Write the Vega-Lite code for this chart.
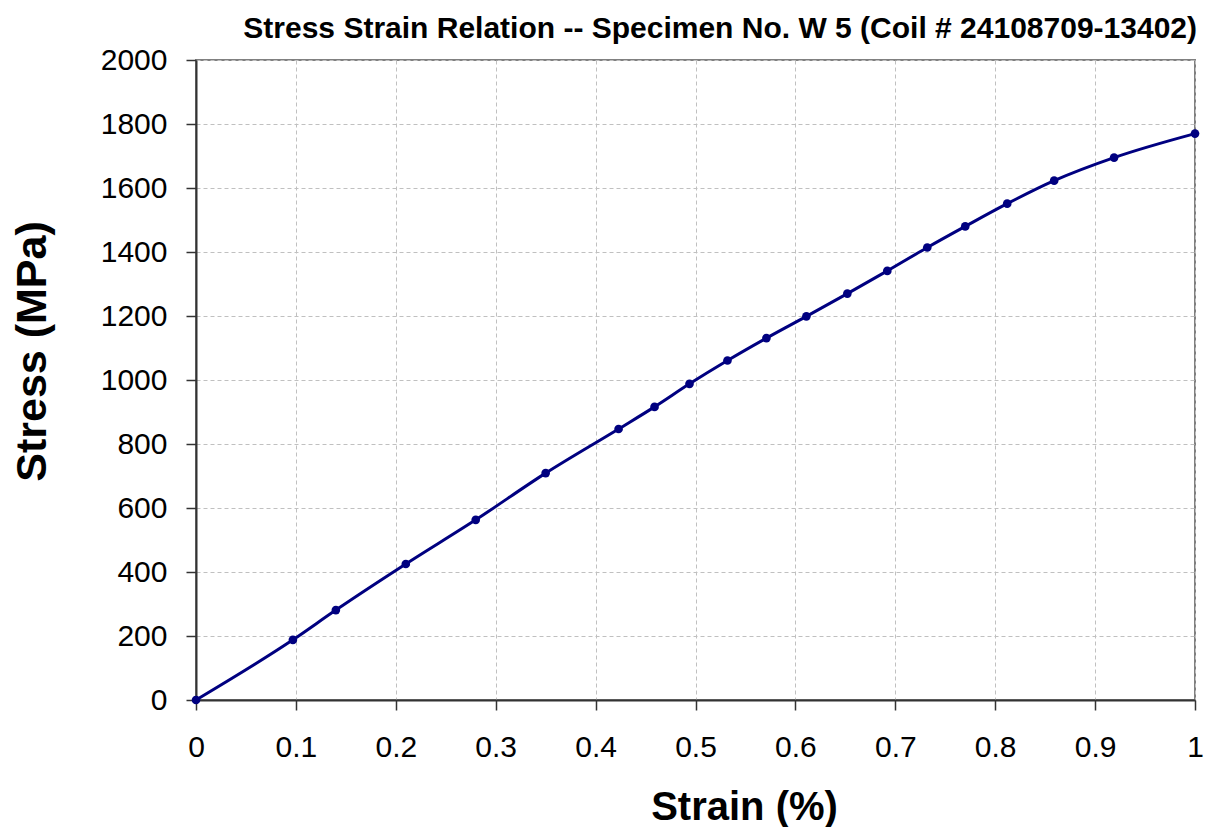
{
  "$schema": "https://vega.github.io/schema/vega-lite/v6.json",
  "width": 999,
  "height": 640,
  "autosize": {"type": "none"},
  "padding": {"left": 196, "top": 60, "right": 10, "bottom": 127},
  "background": "white",
  "title": {
    "text": "Stress Strain Relation -- Specimen No. W 5 (Coil # 24108709-13402)",
    "font": "Liberation Sans",
    "fontSize": 30,
    "fontWeight": "bold",
    "color": "black",
    "anchor": "end",
    "frame": "group",
    "offset": 1,
    "dx": 2
  },
  "config": {
    "view": {"stroke": "#808080", "strokeWidth": 2},
    "axis": {
      "labelFont": "Liberation Sans",
      "labelFontSize": 30,
      "labelColor": "black",
      "titleFont": "Liberation Sans",
      "titleFontWeight": "bold",
      "titleColor": "black",
      "domainColor": "#333333",
      "domainWidth": 2,
      "tickColor": "#333333",
      "tickWidth": 1.5,
      "tickSize": 10,
      "gridColor": "#c0c0c0",
      "gridDash": [4, 3],
      "gridWidth": 1
    }
  },
  "data": {
    "values": [
      {"strain": 0.0, "stress": 0},
      {"strain": 0.097, "stress": 188},
      {"strain": 0.14, "stress": 281},
      {"strain": 0.21, "stress": 425},
      {"strain": 0.28, "stress": 563},
      {"strain": 0.35, "stress": 709},
      {"strain": 0.423, "stress": 847},
      {"strain": 0.459, "stress": 916},
      {"strain": 0.494, "stress": 988},
      {"strain": 0.532, "stress": 1061},
      {"strain": 0.571, "stress": 1131},
      {"strain": 0.611, "stress": 1199},
      {"strain": 0.652, "stress": 1270},
      {"strain": 0.692, "stress": 1341},
      {"strain": 0.732, "stress": 1414},
      {"strain": 0.77, "stress": 1480},
      {"strain": 0.812, "stress": 1551},
      {"strain": 0.859, "stress": 1623},
      {"strain": 0.919, "stress": 1695},
      {"strain": 1.0, "stress": 1770}
    ]
  },
  "encoding": {
    "x": {
      "field": "strain",
      "type": "quantitative",
      "scale": {"domain": [0, 1], "nice": false, "zero": true},
      "axis": {
        "title": "Strain (%)",
        "titleFontSize": 40,
        "titleX": 548,
        "titleY": 119,
        "titleBaseline": "alphabetic",
        "titleAlign": "center",
        "values": [0, 0.1, 0.2, 0.3, 0.4, 0.5, 0.6, 0.7, 0.8, 0.9, 1],
        "labelPadding": 22,
        "labelExpr": "datum.value",
        "labelFlush": false
      }
    },
    "y": {
      "field": "stress",
      "type": "quantitative",
      "scale": {"domain": [0, 2000], "nice": false},
      "axis": {
        "title": "Stress (MPa)",
        "titleFontSize": 43,
        "titleAngle": -90,
        "titleX": -151,
        "titleY": 291,
        "titleBaseline": "alphabetic",
        "titleAlign": "center",
        "values": [0, 200, 400, 600, 800, 1000, 1200, 1400, 1600, 1800, 2000],
        "format": "d",
        "labelPadding": 19,
        "labelBaseline": "middle",
        "labelFlush": false
      }
    }
  },
  "layer": [
    {
      "mark": {"type": "line", "color": "#000080", "strokeWidth": 3, "interpolate": "monotone", "clip": false}
    },
    {
      "mark": {"type": "point", "filled": true, "color": "#000080", "size": 75, "opacity": 1, "clip": false}
    }
  ]
}
